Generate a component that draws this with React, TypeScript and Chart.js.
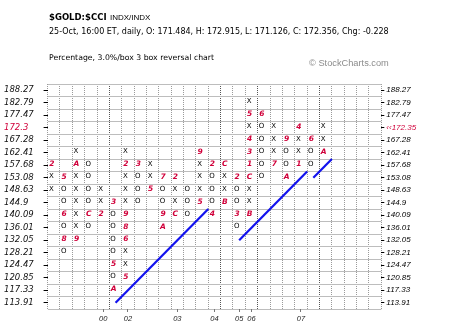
import React, { useEffect, useRef } from 'react';
import { Chart, registerables } from 'chart.js';

Chart.register(...registerables);

// Box price levels, top row first
const priceLevels = ['188.27', '182.79', '177.47', '172.3', '167.28', '162.41', '157.68', '153.08', '148.63', '144.9', '140.09', '136.01', '132.05', '128.21', '124.47', '120.85', '117.33', '113.91'];
const rightPriceLabels = ['188.27', '182.79', '177.47', '‹‹172.35', '167.28', '162.41', '157.68', '153.08', '148.63', '144.9', '140.09', '136.01', '132.05', '128.21', '124.47', '120.85', '117.33', '113.91'];
const currentRow = 3;

// Point & figure columns: first (top) row index of each column and its marks from top to bottom
const columnTopRow = [6, 7, 5, 6, 8, 9, 5, 6, 6, 7, 7, 8, 5, 6, 6, 7, 1, 2, 3, 4, 3, 4, 3];
const columnMarks = ['2XX', '5OO6O8O', 'XAXXXXX9', 'OOOOCO', 'XX2', '3OOOO5OA', 'X2XXX986XX5', '3OOO', 'XX5', '7OO9A', '2XXC', 'OOO', '9XXX5', '2OOO4', 'CXXB', '2OO3O', 'X5X431CXXB', '6OOOOO', 'XXX7', '9OOA', '4XX1', '6OO', 'XXA'];
const totalColumns = 27;
const totalRows = 18;

// Year labels under the columns (1-based column numbers)
const yearLabels = ['00', '02', '03', '04', '05', '06', '07'];
const yearColumns = [5, 7, 11, 14, 16, 17, 21];

// Trend lines in box units (x: column position, y: row position)
const trendLine1 = [{ x: 5.5, y: 17.5 }, { x: 13, y: 10 }];
const trendLine2 = [{ x: 15.5, y: 12.5 }, { x: 21, y: 7 }];
const trendLine3 = [{ x: 21.5, y: 7.5 }, { x: 23, y: 6 }];

const heavyGridColumns = [5, 14, 17, 22];

export default function App() {
  const ref = useRef<HTMLCanvasElement>(null);

  useEffect(() => {
    const canvas = ref.current!;
    const xs: any[] = [];
    const os: any[] = [];
    const ms: any[] = [];
    columnMarks.forEach((marks, i) => {
      marks.split('').forEach((ch, j) => {
        const p = { x: i + 0.5, y: columnTopRow[i] + j + 0.5, t: ch };
        if (ch === 'X') xs.push(p);
        else if (ch === 'O') os.push(p);
        else ms.push(p);
      });
    });

    const textPlugin = {
      id: 'pfText',
      afterDatasetsDraw(chart: any) {
        const ctx = chart.ctx;
        chart.data.datasets.forEach((ds: any, di: number) => {
          if (!ds.markFont) return;
          const meta = chart.getDatasetMeta(di);
          ctx.save();
          ctx.font = ds.markFont;
          ctx.fillStyle = ds.markColor;
          ctx.textAlign = 'center';
          ctx.textBaseline = 'middle';
          meta.data.forEach((el: any, k: number) => {
            ctx.fillText(ds.data[k].t, el.x + ds.dx, el.y + ds.dy);
          });
          ctx.restore();
        });
      },
    };

    const headerPlugin = {
      id: 'header',
      afterDraw(chart: any) {
        const ctx = chart.ctx;
        ctx.save();
        ctx.textAlign = 'left';
        ctx.textBaseline = 'alphabetic';
        ctx.fillStyle = '#000';
        ctx.font = 'bold 8.5px "DejaVu Sans"';
        ctx.fillText('$GOLD:$CCI', 49, 20);
        ctx.font = '8px "Liberation Sans"';
        ctx.fillText('INDX/INDX', 110, 20);
        ctx.font = '8px "DejaVu Sans"';
        ctx.fillText('25-Oct, 16:00 ET, daily, O: 171.484, H: 172.915, L: 171.126, C: 172.356, Chg: -0.228', 49, 33.5);
        ctx.font = '7.75px "DejaVu Sans"';
        ctx.fillText('Percentage, 3.0%/box 3 box reversal chart', 49, 59.5);
        ctx.fillStyle = '#8c8c8c';
        ctx.font = '9.25px "Liberation Sans"';
        ctx.fillText('© StockCharts.com', 309, 66);
        ctx.restore();
      },
    };

    const trendStyle = { showLine: true, borderColor: '#1212ee', borderWidth: 2.2, pointRadius: 0, fill: false };

    const chart = new Chart(canvas, {
      type: 'scatter',
      data: {
        datasets: [
          { data: trendLine1, ...trendStyle } as any,
          { data: trendLine2, ...trendStyle } as any,
          { data: trendLine3, ...trendStyle } as any,
          { data: xs, pointRadius: 0, markFont: '7px "DejaVu Sans"', markColor: '#000', dx: -2.5, dy: -1.2 } as any,
          { data: os, pointRadius: 0, markFont: '7px "DejaVu Sans"', markColor: '#000', dx: -2.5, dy: -1.2 } as any,
          { data: ms, pointRadius: 0, markFont: 'italic bold 7.5px "DejaVu Sans"', markColor: '#d0003a', dx: -2, dy: -1.2 } as any,
        ],
      },
      options: {
        responsive: false,
        animation: false,
        events: [],
        plugins: { legend: { display: false }, tooltip: { enabled: false } },
        layout: { padding: { left: 4, top: 84, right: 0, bottom: 0 } },
        scales: {
          x: {
            type: 'linear', axis: 'x', position: 'bottom', min: 0, max: totalColumns,
            afterBuildTicks: (s: any) => { s.ticks = Array.from({ length: totalColumns + 1 }, (_, i) => ({ value: i })); },
            afterFit: (s: any) => { s.height = 0; },
            ticks: { display: false },
            grid: {
              drawTicks: false,
              color: (c: any) => (heavyGridColumns.includes(c.tick?.value) ? '#555' : '#9a9a9a'),
            },
            border: { display: false, dash: [1, 1] },
          },
          y: {
            type: 'linear', axis: 'y', position: 'left', min: 0, max: totalRows, reverse: true,
            afterBuildTicks: (s: any) => { s.ticks = Array.from({ length: totalRows + 1 }, (_, i) => ({ value: i })); },
            afterFit: (s: any) => { s.width = 0; },
            ticks: { display: false },
            grid: { drawTicks: false, color: '#bdbdbd' },
            border: { display: false },
          },
          years: {
            type: 'linear', axis: 'x', position: 'bottom', min: 0, max: totalColumns,
            afterBuildTicks: (s: any) => { s.ticks = yearColumns.map((c) => ({ value: c - 0.5 })); },
            afterFit: (s: any) => { s.height = 23; },
            ticks: {
              autoSkip: false, maxRotation: 0, minRotation: 0, padding: 2,
              callback: (_v: any, i: number) => yearLabels[i],
              font: { family: 'Liberation Sans', size: 7.5, style: 'italic' },
              color: '#222',
            },
            grid: { drawOnChartArea: false, drawTicks: true, tickLength: 3, color: '#777' },
            border: { display: false },
          },
          yLeft: {
            type: 'linear', axis: 'y', position: 'left', min: 0, max: totalRows, reverse: true,
            afterBuildTicks: (s: any) => { s.ticks = priceLevels.map((_, i) => ({ value: i + 0.5 })); },
            afterFit: (s: any) => { s.width = 43.6; },
            ticks: {
              autoSkip: false, crossAlign: 'far', padding: 2,
              callback: (_v: any, i: number) => priceLevels[i],
              font: { family: 'DejaVu Sans', size: 8.5, style: 'italic' },
              color: (c: any) => (c.index === currentRow ? '#d0003a' : '#111'),
            },
            grid: { drawOnChartArea: false, drawTicks: true, tickLength: 4, color: '#000' },
            border: { display: false },
          },
          yRight: {
            type: 'linear', axis: 'y', position: 'right', min: 0, max: totalRows, reverse: true,
            afterBuildTicks: (s: any) => { s.ticks = rightPriceLabels.map((_, i) => ({ value: i + 0.5 })); },
            afterFit: (s: any) => { s.width = 72.7; },
            ticks: {
              autoSkip: false, padding: 2,
              callback: (_v: any, i: number) => rightPriceLabels[i],
              font: { family: 'Liberation Sans', size: 8, style: 'italic' },
              color: (c: any) => (c.index === currentRow ? '#d0003a' : '#000'),
            },
            grid: { drawOnChartArea: false, drawTicks: true, tickLength: 3, color: '#000' },
            border: { display: false },
          },
        },
      } as any,
      plugins: [textPlugin, headerPlugin],
    });
    return () => chart.destroy();
  }, []);

  return (
    <div style={{ position: 'fixed', left: 0, top: 0, width: 454, height: 332, background: '#fff' }}>
      <canvas ref={ref} width={454} height={332} style={{ display: 'block' }} />
    </div>
  );
}
